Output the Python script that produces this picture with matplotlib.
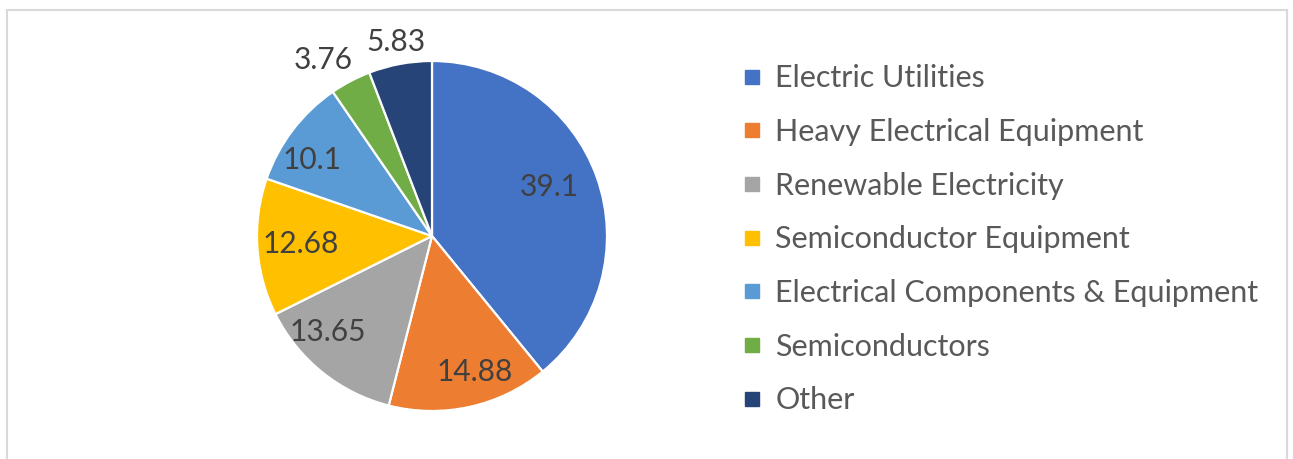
import numpy as np
import matplotlib.pyplot as plt
from matplotlib.lines import Line2D
from matplotlib.patches import Rectangle

sectors = ['Electric Utilities', 'Heavy Electrical Equipment', 'Renewable Electricity',
           'Semiconductor Equipment', 'Electrical Components & Equipment',
           'Semiconductors', 'Other']
shares = [39.1, 14.88, 13.65, 12.68, 10.1, 3.76, 5.83]
value_labels = ['39.1', '14.88', '13.65', '12.68', '10.1', '3.76', '5.83']
colors = ['#4472C4', '#ED7D31', '#A5A5A5', '#FFC000', '#5B9BD5', '#70AD47', '#264478']
# label placement: radial distance (fraction of radius) and angular nudge (deg)
label_dist = [0.725, 0.815, 0.81, 0.75, 0.81, 1.18, 1.13]
label_nudge = [3, 5, -8.7, 0, 5, 4, 0]

plt.rcParams['font.family'] = ['Lato', 'DejaVu Sans']
text_color = '#595959'

fig = plt.figure(figsize=(12.93, 4.59), dpi=100)
fig.patches.append(Rectangle((7 / 1293, -0.05), 1280 / 1293, 1.05 - 10 / 459,
                             transform=fig.transFigure, fill=False,
                             edgecolor='#D9D9D9', linewidth=1.5))

ax = fig.add_axes([(432 - 175) / 1293, (459 - 236 - 175) / 459, 350 / 1293, 350 / 459])
wedges, _ = ax.pie(shares, colors=colors, startangle=90, counterclock=False,
                   wedgeprops=dict(edgecolor='white', linewidth=1.6))
ax.set_xlim(-1.0, 1.0)
ax.set_ylim(-1.0, 1.0)
ax.set_aspect('equal')
ax.axis('off')

for w, lab, d, n in zip(wedges, value_labels, label_dist, label_nudge):
    ang = np.deg2rad((w.theta1 + w.theta2) / 2 + n)
    ax.text(d * np.cos(ang), d * np.sin(ang), lab, ha='center', va='center',
            fontsize=21.5, color='#404040', clip_on=False)

handles = [Line2D([], [], marker='s', linestyle='none', markersize=9.5,
                  markerfacecolor=c, markeredgecolor=c) for c in colors]
leg = fig.legend(handles, sectors, loc='upper left', bbox_to_anchor=(728 / 1293, 1 - 52 / 459),
                 frameon=False, fontsize=22, labelspacing=0.84, handlelength=0.8,
                 handletextpad=0.35, borderaxespad=0)
for t in leg.get_texts():
    t.set_color(text_color)

fig.savefig('out.png', dpi=100)
